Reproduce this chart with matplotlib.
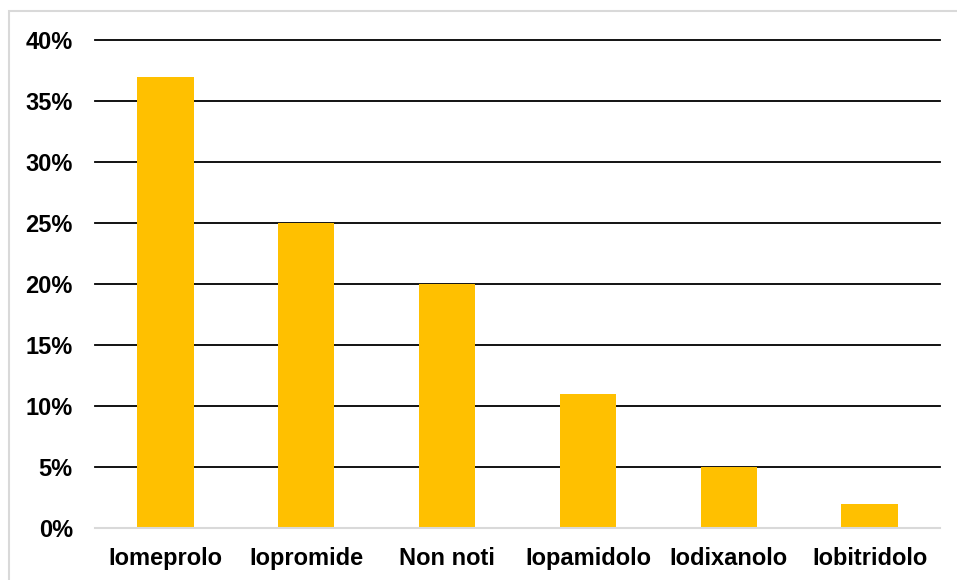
import matplotlib.pyplot as plt
from matplotlib.patches import Rectangle
from matplotlib.ticker import FuncFormatter

# data
categories = ['Iomeprolo', 'Iopromide', 'Non noti', 'Iopamidolo', 'Iodixanolo', 'Iobitridolo']
shares = [37, 25, 20, 11, 5, 2]
y_ticks = [0, 5, 10, 15, 20, 25, 30, 35, 40]

plt.rcParams['font.family'] = ['Liberation Sans', 'DejaVu Sans']
plt.rcParams['font.weight'] = 'bold'

fig = plt.figure(figsize=(9.57, 5.8), dpi=100)
ax = fig.add_axes([95 / 957, 52 / 580, 845 / 957, 488 / 580])

x = range(len(categories))
ax.bar(x, shares, width=0.4, color='#FFC000', zorder=3)

ax.set_xlim(-0.5, len(categories) - 0.5)
ax.set_ylim(0, 40)
ax.set_yticks(y_ticks)
ax.yaxis.set_major_formatter(FuncFormatter(lambda v, p: f'{v:.0f}%'))
ax.set_xticks(list(x))
ax.set_xticklabels(categories)

# black gridlines, gray base line
for t in y_ticks[1:]:
    ax.axhline(t, color='black', linewidth=1.3, zorder=2, clip_on=False)
for s in ['top', 'right', 'left']:
    ax.spines[s].set_visible(False)
ax.spines['bottom'].set_color('#D9D9D9')
ax.spines['bottom'].set_linewidth(1.5)
ax.spines['bottom'].set_zorder(4)

ax.tick_params(axis='both', length=0, labelsize=17)
ax.tick_params(axis='y', pad=16)
ax.tick_params(axis='x', pad=14)
for lbl in ax.get_xticklabels() + ax.get_yticklabels():
    lbl.set_fontweight('bold')

# light outer frame of the chart area
fig.patches.append(Rectangle((8.5 / 957, -0.02), 1.1, (580 - 11) / 580 + 0.02,
                             transform=fig.transFigure, fill=False,
                             edgecolor='#D9D9D9', linewidth=1.5))

fig.savefig('out.png', dpi=100)
